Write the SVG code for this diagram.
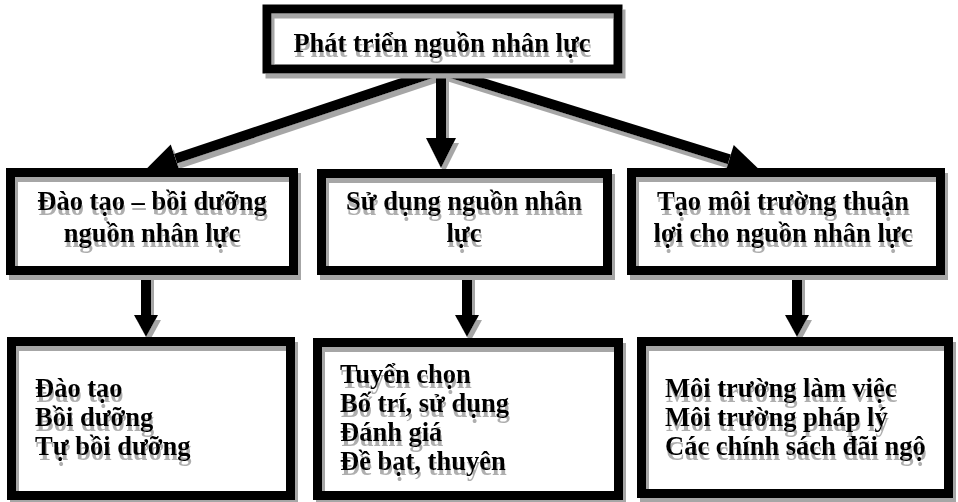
<svg xmlns="http://www.w3.org/2000/svg" width="958" height="502" viewBox="0 0 958 502">
<style>
.box{fill:none;stroke:#000;stroke-width:9}
.bg{fill:#fff;stroke:none}
.t{font-family:"Liberation Serif","Times New Roman",serif;font-weight:bold;font-size:26.5px;fill:#000}
.c{text-anchor:middle}
.ln{stroke:#000;stroke-width:10;fill:none}
</style>
<defs>
<filter id="sh" filterUnits="userSpaceOnUse" x="0" y="0" width="958" height="502">
<feOffset in="SourceAlpha" dx="3" dy="5" result="o"/>
<feFlood flood-color="#a6a6a6"/>
<feComposite in2="o" operator="in" result="s"/>
<feMerge><feMergeNode in="s"/><feMergeNode in="SourceGraphic"/></feMerge>
</filter>
<filter id="tsh" filterUnits="userSpaceOnUse" x="0" y="0" width="958" height="502">
<feOffset in="SourceAlpha" dx="1" dy="5" result="o"/>
<feGaussianBlur in="o" stdDeviation="0.6" result="b"/>
<feFlood flood-color="#9a9a9a" flood-opacity="0.8"/>
<feComposite in2="b" operator="in" result="s"/>
<feMerge><feMergeNode in="s"/><feMergeNode in="SourceGraphic"/></feMerge>
</filter>
<marker id="ah" markerUnits="userSpaceOnUse" markerWidth="30" markerHeight="30" refX="0" refY="15" orient="auto" overflow="visible">
<path d="M0,0 L30,15 L0,30 Z" fill="#000"/>
</marker>
<marker id="ah2" markerUnits="userSpaceOnUse" markerWidth="22" markerHeight="24" refX="0" refY="12" orient="auto" overflow="visible">
<path d="M0,0 L22,12 L0,24 Z" fill="#000"/>
</marker>
</defs>
<rect width="958" height="502" fill="#fff"/>
<g id="connectors" filter="url(#sh)">
<line class="ln" x1="441" y1="70" x2="175.5" y2="158.8" marker-end="url(#ah)"/>
<line class="ln" x1="441" y1="70" x2="441" y2="138" marker-end="url(#ah)"/>
<line class="ln" x1="441" y1="70" x2="729.3" y2="159.4" marker-end="url(#ah)"/>
<line class="ln" x1="146" y1="272" x2="146" y2="315" marker-end="url(#ah2)"/>
<line class="ln" x1="467" y1="272" x2="467" y2="315" marker-end="url(#ah2)"/>
<line class="ln" x1="797" y1="272" x2="797" y2="315" marker-end="url(#ah2)"/>
</g>
<g id="root">
<rect class="bg" x="267" y="9" width="351" height="60"/>
<rect class="box" x="267" y="9" width="351" height="60" stroke-width="8" filter="url(#sh)"/>
<text class="t c" x="442" y="52" filter="url(#tsh)">Phát triển nguồn nhân lực</text>
</g>
<g id="dao-tao">
<rect class="bg" x="10.5" y="172.5" width="283" height="98"/>
<rect class="box" x="10.5" y="172.5" width="283" height="98" filter="url(#sh)"/>
<text class="t c" filter="url(#tsh)"><tspan x="152" y="210">Đào tạo – bồi dưỡng</tspan><tspan x="152" y="242">nguồn nhân lực</tspan></text>
</g>
<g id="su-dung">
<rect class="bg" x="321.5" y="173.5" width="286" height="97"/>
<rect class="box" x="321.5" y="173.5" width="286" height="97" filter="url(#sh)"/>
<text class="t c" filter="url(#tsh)"><tspan x="464" y="210">Sử dụng nguồn nhân</tspan><tspan x="464" y="242">lực</tspan></text>
</g>
<g id="moi-truong">
<rect class="bg" x="631.5" y="172.5" width="309" height="98"/>
<rect class="box" x="631.5" y="172.5" width="309" height="98" filter="url(#sh)"/>
<text class="t c" filter="url(#tsh)"><tspan x="783" y="210">Tạo môi trường thuận</tspan><tspan x="783" y="242">lợi cho nguồn nhân lực</tspan></text>
</g>
<g id="dao-tao-items">
<rect class="bg" x="11.5" y="341.5" width="279" height="154"/>
<rect class="box" x="11.5" y="341.5" width="279" height="154" filter="url(#sh)"/>
<text class="t" filter="url(#tsh)"><tspan x="35" y="397">Đào tạo</tspan><tspan x="35" y="426">Bồi dưỡng</tspan><tspan x="35" y="455">Tự bồi dưỡng</tspan></text>
</g>
<g id="su-dung-items">
<rect class="bg" x="317.5" y="342.5" width="301" height="153"/>
<rect class="box" x="317.5" y="342.5" width="301" height="153" filter="url(#sh)"/>
<text class="t" filter="url(#tsh)"><tspan x="340" y="383">Tuyển chọn</tspan><tspan x="340" y="412">Bố trí, sử dụng</tspan><tspan x="340" y="441">Đánh giá</tspan><tspan x="340" y="470">Đề bạt, thuyên</tspan></text>
</g>
<g id="moi-truong-items">
<rect class="bg" x="641.5" y="341.5" width="307" height="152"/>
<rect class="box" x="641.5" y="341.5" width="307" height="152" filter="url(#sh)"/>
<text class="t" filter="url(#tsh)"><tspan x="665" y="397">Môi trường làm việc</tspan><tspan x="665" y="426">Môi trường pháp lý</tspan><tspan x="665" y="455">Các chính sách đãi ngộ</tspan></text>
</g>
</svg>
